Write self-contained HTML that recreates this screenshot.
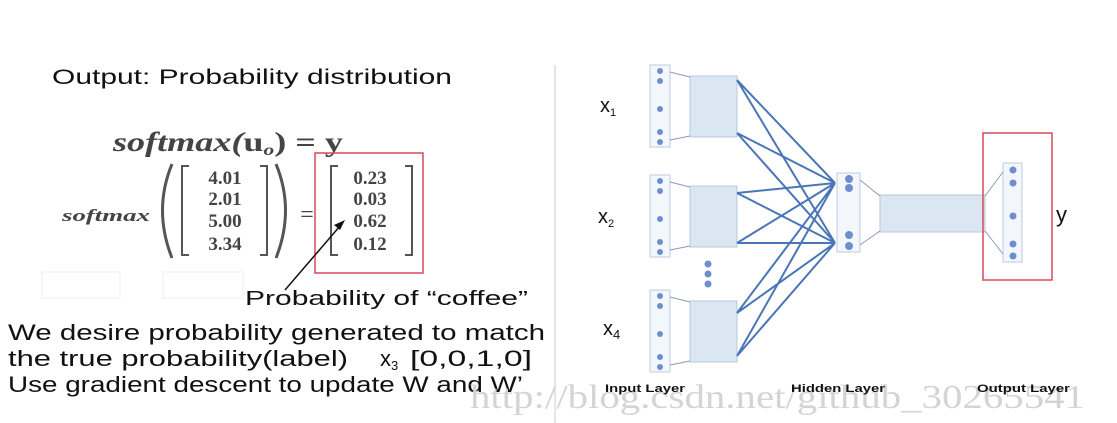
<!DOCTYPE html>
<html><head><meta charset="utf-8"><style>
html,body{margin:0;padding:0;background:#fff;width:1117px;height:423px;overflow:hidden}
svg{display:block}
.s{font-family:"Liberation Sans",sans-serif;fill:#111}
.m{font-family:"Liberation Serif",serif;fill:#444}
</style></head><body>
<svg width="1117" height="423" viewBox="0 0 1117 423">
<line x1="555" y1="65" x2="555" y2="423" stroke="#ddd" stroke-width="1.5"/>
<text class="s" x="52" y="84" font-size="21" textLength="400" lengthAdjust="spacingAndGlyphs">Output: Probability distribution</text>
<g>
<text class="m" x="113" y="151" font-size="27" font-style="italic" font-weight="bold" fill="#333" textLength="230" lengthAdjust="spacingAndGlyphs">softmax(<tspan font-style="normal">u</tspan><tspan font-size="16" dy="4">o</tspan><tspan dy="-4" font-style="normal">) = </tspan><tspan font-style="normal">y</tspan></text>
<text class="m" x="62" y="221" font-size="17" font-style="italic" font-weight="bold" textLength="88" lengthAdjust="spacingAndGlyphs">softmax</text>
<path d="M172,164 Q153,210 172,258" fill="none" stroke="#555" stroke-width="3"/>
<path d="M276,164 Q295,210 276,258" fill="none" stroke="#555" stroke-width="3"/>
<path d="M189,166 h-7 v89 h7 M260,166 h7 v89 h-7" fill="none" stroke="#555" stroke-width="2"/>
<text class="m" x="225" y="184" font-size="19" text-anchor="middle" font-weight="bold">4.01</text>
<text class="m" x="225" y="205" font-size="19" text-anchor="middle" font-weight="bold">2.01</text>
<text class="m" x="225" y="227" font-size="19" text-anchor="middle" font-weight="bold">5.00</text>
<text class="m" x="225" y="250" font-size="19" text-anchor="middle" font-weight="bold">3.34</text>
<text class="m" x="307" y="222" font-size="24" text-anchor="middle" fill="#aaa">=</text>
<path d="M338,166 h-7 v89 h7 M405,166 h7 v89 h-7" fill="none" stroke="#555" stroke-width="2"/>
<text class="m" x="370" y="184" font-size="19" text-anchor="middle" font-weight="bold">0.23</text>
<text class="m" x="370" y="205" font-size="19" text-anchor="middle" font-weight="bold">0.03</text>
<text class="m" x="370" y="227" font-size="19" text-anchor="middle" font-weight="bold">0.62</text>
<text class="m" x="370" y="250" font-size="19" text-anchor="middle" font-weight="bold">0.12</text>
</g>
<rect x="315" y="153" width="108" height="120" fill="none" stroke="#d84a5a" stroke-width="1.5"/>
<line x1="285" y1="290" x2="340" y2="226" stroke="#111" stroke-width="1.5"/>
<path d="M345,220 l-11,5 l6,5 z" fill="#111"/>
<g fill="none" stroke="#eee" stroke-width="1">
<rect x="42" y="272" width="78" height="26"/><rect x="163" y="272" width="80" height="26"/>
</g>
<text class="s" x="245" y="305" font-size="20" textLength="283" lengthAdjust="spacingAndGlyphs">Probability of “coffee”</text>
<text class="s" x="8" y="340" font-size="22" textLength="537" lengthAdjust="spacingAndGlyphs">We desire probability generated to match</text>
<text class="s" x="8" y="366" font-size="22"><tspan textLength="340" lengthAdjust="spacingAndGlyphs">the true probability(label)</tspan><tspan x="380">x</tspan><tspan font-size="13" dy="4">3</tspan><tspan dy="-4" x="410" textLength="122" lengthAdjust="spacingAndGlyphs">[0,0,1,0]</tspan></text>
<text class="s" x="8" y="392" font-size="22" textLength="515" lengthAdjust="spacingAndGlyphs">Use gradient descent to update W and W’</text>

<g>
<g fill="#dbe6f3" stroke="#b7c8dd">
<rect x="690" y="76" width="47" height="61"/><rect x="690" y="186" width="47" height="61"/><rect x="690" y="301" width="47" height="61"/>
<rect x="880" y="195" width="105" height="37"/>
</g>
<g fill="#f3f7fc" stroke="#bccbe0">
<rect x="650" y="65" width="20" height="82"/><rect x="650" y="175" width="20" height="82"/><rect x="650" y="290" width="20" height="82"/>
<rect x="837" y="173" width="23" height="79"/><rect x="1003" y="163" width="19" height="99"/>
</g>
<g fill="#6e8fcf">
<circle cx="660" cy="71" r="3"/><circle cx="660" cy="81" r="3"/><circle cx="660" cy="109" r="3"/><circle cx="660" cy="132" r="3"/><circle cx="660" cy="142" r="3"/>
<circle cx="660" cy="181" r="3"/><circle cx="660" cy="191" r="3"/><circle cx="660" cy="219" r="3"/><circle cx="660" cy="242" r="3"/><circle cx="660" cy="252" r="3"/>
<circle cx="660" cy="296" r="3"/><circle cx="660" cy="306" r="3"/><circle cx="660" cy="334" r="3"/><circle cx="660" cy="357" r="3"/><circle cx="660" cy="367" r="3"/>
<circle cx="849" cy="179" r="4"/><circle cx="849" cy="188" r="4"/><circle cx="849" cy="235" r="4"/><circle cx="849" cy="246" r="4"/>
<circle cx="1013" cy="170" r="3.5"/><circle cx="1013" cy="183" r="3.5"/><circle cx="1013" cy="216" r="3.5"/><circle cx="1013" cy="244" r="3.5"/><circle cx="1013" cy="256" r="3.5"/>
<circle cx="708" cy="264" r="3.5"/><circle cx="708" cy="274" r="3.5"/><circle cx="708" cy="284" r="3.5"/>
</g>
<g stroke="#8b9bb5" stroke-width="1" fill="none">
<path d="M670,72 L690,77 M670,140 L690,136 M670,182 L690,187 M670,250 L690,246 M670,297 L690,302 M670,365 L690,361"/>
<path d="M860,180 L880,196 M860,245 L880,231 M985,196 L1003,172 M985,231 L1003,254"/>
</g>
<g stroke="#4a76b8" stroke-width="2" fill="none">
<path d="M737,80 L835,183 M737,80 L835,243 M737,133 L835,183 M737,133 L835,243 M737,193 L835,183 M737,193 L835,243 M737,243 L835,183 M737,243 L835,243 M737,313 L835,183 M737,313 L835,243 M737,356 L835,183 M737,356 L835,243"/>
</g>
<rect x="983" y="133" width="69" height="147" fill="none" stroke="#d84a5a" stroke-width="1.5"/>
<text class="s" x="600" y="112" font-size="20">x<tspan font-size="11" dy="4">1</tspan></text>
<text class="s" x="598" y="223" font-size="20">x<tspan font-size="11" dy="4">2</tspan></text>
<text class="s" x="603" y="335" font-size="20">x<tspan font-size="13" dy="4">4</tspan></text>
<text class="s" x="1056" y="222" font-size="22">y</text>
</g>
<text x="470" y="408" font-family="Liberation Serif,serif" font-size="34" fill="#d4d4d4" textLength="615" lengthAdjust="spacingAndGlyphs">http://blog.csdn.net/github_30265541</text>
<text class="s" x="605" y="392" font-size="11" font-weight="bold" fill="#444" textLength="80" lengthAdjust="spacingAndGlyphs">Input Layer</text>
<text class="s" x="791" y="392" font-size="11" font-weight="bold" fill="#444" textLength="94" lengthAdjust="spacingAndGlyphs">Hidden Layer</text>
<text class="s" x="977" y="392" font-size="11" font-weight="bold" fill="#444" textLength="93" lengthAdjust="spacingAndGlyphs">Output Layer</text>
</svg>
</body></html>
